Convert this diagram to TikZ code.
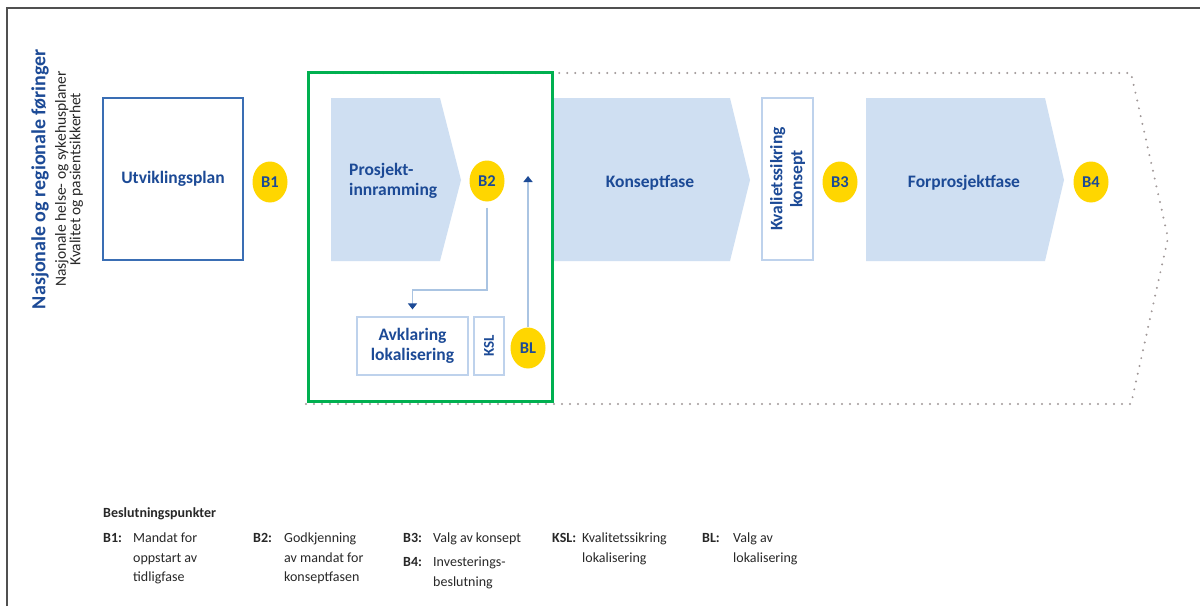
\documentclass[tikz,border=0pt]{standalone}
\usepackage{fontspec}
\setmainfont{Carlito}
\usetikzlibrary{arrows.meta,shapes.geometric}
\definecolor{dblue}{RGB}{28,74,150}
\definecolor{bordblue}{RGB}{58,110,180}
\definecolor{lblue}{RGB}{207,223,242}
\definecolor{lbord}{RGB}{190,210,236}
\definecolor{lline}{RGB}{170,196,226}
\definecolor{ryellow}{RGB}{255,214,0}
\definecolor{rgreen}{RGB}{0,176,80}
\definecolor{dotgray}{RGB}{160,152,152}
\definecolor{framegray}{RGB}{80,80,80}
\definecolor{txtgray}{RGB}{40,40,40}
\newcommand\rsLabel{\fontsize{17.5}{20}\selectfont\bfseries}
\newcommand\rsBadge{\fontsize{16.5}{18}\selectfont\bfseries}
\newcommand\rsLeg{\fontsize{14}{19.5}\selectfont}
\begin{document}
\begin{tikzpicture}[x=1pt,y=-1pt,
  phase/.style={fill=lblue,draw=none},
  lbl/.style={text=dblue,font=\rsLabel,inner sep=0pt,align=center},
  badge/.style={ellipse,fill=ryellow,draw=none,minimum width=35pt,minimum height=41pt,inner sep=0pt,text=dblue,font=\rsBadge},
  thinbox/.style={draw=lbord,line width=1.2pt,fill=white},
  conn/.style={draw=lline,line width=1.5pt,-{Triangle[width=9pt,length=6pt,color=dblue]}},
  legb/.style={font=\rsLeg\bfseries,text=txtgray,anchor=north west,inner sep=0pt},
  legt/.style={font=\rsLeg,text=txtgray,anchor=north west,inner sep=0pt,align=left}]
\useasboundingbox (0,0) rectangle (1200,606);
\fill[white] (0,0) rectangle (1200,606);
% outer frame
\draw[framegray,line width=2pt] (7,606) -- (7,8) -- (1200,8);
% dotted outline
\draw[dotgray,line width=2.2pt,line cap=round,dash pattern=on 0pt off 8pt]
  (306,404) -- (1131,404) -- (1168,238) -- (1131,73) -- (310,73);
% left titles
\node[rotate=90,text=dblue,font=\fontsize{20}{22}\selectfont\bfseries,inner sep=0pt] (t1) at (40,179) {Nasjonale og regionale føringer};
\node[rotate=90,text=txtgray,font=\fontsize{15.5}{14.5}\selectfont,align=center,inner sep=0pt] (t2) at (69,179) {Nasjonale helse- og sykehusplaner\\Kvalitet og pasientsikkerhet};
% Utviklingsplan
\node[draw=bordblue,line width=1.5pt,minimum width=140pt,minimum height=162pt,inner sep=0pt,text=dblue,font=\rsLabel] (utv) at (173,179) {Utviklingsplan};
\node[badge] (B1) at (270,182) {B1};
% phases
\fill[phase] (331,98) -- (440,98) -- (461,180) -- (440,261) -- (331,261) -- cycle;
\fill[phase] (553,98) -- (730,98) -- (750,180) -- (730,261) -- (553,261) -- cycle;
\fill[phase] (866,98) -- (1045,98) -- (1064,180) -- (1045,261) -- (866,261) -- cycle;
\node[lbl,anchor=west,align=left] (pro) at (349,181) {Prosjekt-\\innramming};
\node[lbl] (kon) at (650,183) {Konseptfase};
\node[lbl] (for) at (964,183) {Forprosjektfase};
\node[badge] (B2) at (487,181) {B2};
% quality box
\node[thinbox,minimum width=51pt,minimum height=162pt,inner sep=0pt] (kvb) at (787.5,179) {};
\node[lbl,rotate=90] (kvt) at (kvb.center) {Kvalietssikring\\konsept};
\node[badge] (B3) at (840,182) {B3};
\node[badge] (B4) at (1091,182) {B4};
% localisation
\node[thinbox,minimum width=111pt,minimum height=58pt,inner sep=0pt,text=dblue,font=\rsLabel,align=center] (avk) at (412.5,346) {Avklaring\\lokalisering};
\node[thinbox,minimum width=30pt,minimum height=58pt,inner sep=0pt] (ksl) at (489,346) {};
\node[lbl,rotate=90,font=\fontsize{15}{17}\selectfont\bfseries] (kslt) at (ksl.center) {KSL};
\node[badge] (BL) at (528,348) {BL};
% connectors
\coordinate (bend) at (487,290);
\draw[conn,shorten <=6pt,shorten >=7pt] (B2.south) -- (bend) -| (avk.north);
\coordinate (blend) at (528,176);
\draw[conn] (BL.north) -- (blend);
% green frame
\draw[rgreen,line width=3pt] (308,72) rectangle (552,401);
% legend
\node[legb] (lh) at (103,507) {Beslutningspunkter};
\node[legb] (l1) at (103,533) {B1:};
\node[legt] (l1t) at (133,533) {Mandat for\\oppstart av\\tidligfase};
\node[legb] (l2) at (253,533) {B2:};
\node[legt] (l2t) at (284,533) {Godkjenning\\av mandat for\\konseptfasen};
\node[legb] (l3) at (403,533) {B3:};
\node[legt] (l3t) at (433,533) {Valg av konsept};
\node[legb] (l4) at (403,557) {B4:};
\node[legt] (l4t) at (433,557) {Investerings-\\beslutning};
\node[legb] (l5) at (552,533) {KSL:};
\node[legt] (l5t) at (582,533) {Kvalitetssikring\\lokalisering};
\node[legb] (l6) at (702,533) {BL:};
\node[legt] (l6t) at (733,533) {Valg av\\lokalisering};
\end{tikzpicture}
\end{document}
